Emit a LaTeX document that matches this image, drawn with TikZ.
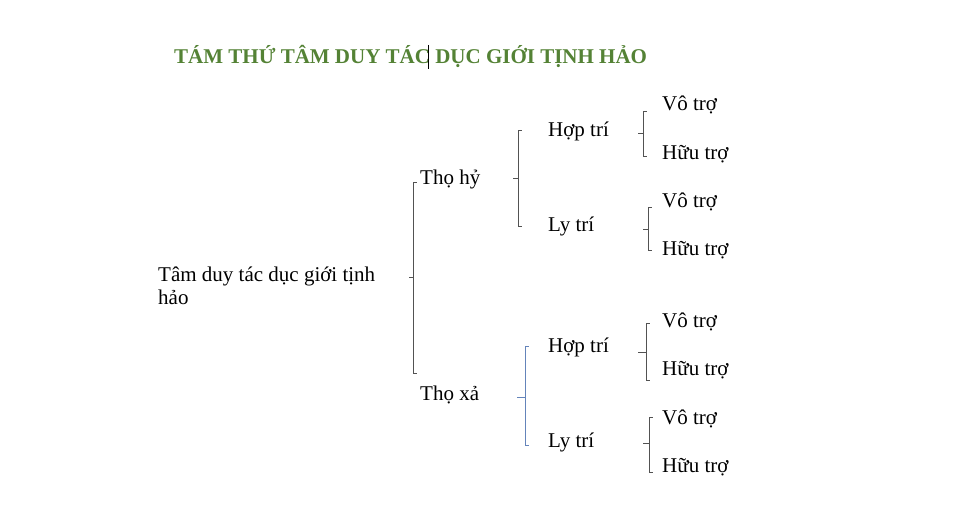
\documentclass[tikz,border=0pt]{standalone}
\usepackage{fontspec}
\setmainfont{Liberation Serif}
\usepackage{tikz}
\definecolor{titlegreen}{RGB}{84, 130, 53}
\definecolor{bracketblue}{RGB}{100, 132, 186}

\begin{document}
\begin{tikzpicture}[
    x=1pt, y=-1pt,
    txt/.style={anchor=base west, inner sep=0pt, font=\fontsize{21}{23}\selectfont},
    brk/.style={line width=1pt, black!68}
]
    \useasboundingbox (0,0) rectangle (975,513);

    % Title
    \node[txt, text=titlegreen, font=\bfseries\fontsize{21}{24}\selectfont] (title) at (174,64)
        {TÁM THỨ TÂM DUY TÁC DỤC GIỚI TỊNH HẢO};
    \draw[line width=0.7pt] (428,45) -- (428,69);

    % Levels
    \node[txt, align=left] (root) at (158,305) {Tâm duy tác dục giới tịnh\\hảo};
    \node[txt] (hy) at (420,185) {Thọ hỷ};
    \node[txt] (xa) at (420,400) {Thọ xả};
    \node[txt] (hop1) at (548,137) {Hợp trí};
    \node[txt] (ly1) at (548,232) {Ly trí};
    \node[txt] (hop2) at (548,352) {Hợp trí};
    \node[txt] (ly2) at (548,447) {Ly trí};
    \node[txt] (vo1) at (662,111) {Vô trợ};
    \node[txt] (huu1) at (662,160) {Hữu trợ};
    \node[txt] (vo2) at (662,208) {Vô trợ};
    \node[txt] (huu2) at (662,256) {Hữu trợ};
    \node[txt] (vo3) at (662,327) {Vô trợ};
    \node[txt] (huu3) at (662,375) {Hữu trợ};
    \node[txt] (vo4) at (662,424) {Vô trợ};
    \node[txt] (huu4) at (662,472) {Hữu trợ};

    % Braces
    \coordinate (br-root) at (413,278);
    \coordinate (br-hy) at (518,179);
    \coordinate (br-xa) at (525,397);
    \coordinate (br-hop1) at (643,134);
    \coordinate (br-ly1) at (648,230);
    \coordinate (br-hop2) at (646,352);
    \coordinate (br-ly2) at (649,443);

    \draw[brk] (br-root) ++(-4,0) -- ++(4,0) -- ++(0,-95) -- ++(4,0) ++(-4,95) -- ++(0,95) -- ++(4,0);
    \draw[brk] (br-hy) ++(-5,0) -- ++(5,0) -- ++(0,-48) -- ++(4,0) ++(-4,48) -- ++(0,48) -- ++(4,0);
    \draw[brk, bracketblue] (br-xa) ++(-8,0) -- ++(8,0) -- ++(0,-51) -- ++(4,0) ++(-4,51) -- ++(0,48) -- ++(4,0);
    \draw[brk] (br-hop1) ++(-5,0) -- ++(5,0) -- ++(0,-22) -- ++(4,0) ++(-4,22) -- ++(0,23) -- ++(4,0);
    \draw[brk] (br-ly1) ++(-5,0) -- ++(5,0) -- ++(0,-22) -- ++(4,0) ++(-4,22) -- ++(0,21) -- ++(4,0);
    \draw[brk] (br-hop2) ++(-8,0) -- ++(8,0) -- ++(0,-29) -- ++(4,0) ++(-4,29) -- ++(0,28) -- ++(4,0);
    \draw[brk] (br-ly2) ++(-6,0) -- ++(6,0) -- ++(0,-26) -- ++(4,0) ++(-4,26) -- ++(0,29) -- ++(4,0);

\end{tikzpicture}
\end{document}
